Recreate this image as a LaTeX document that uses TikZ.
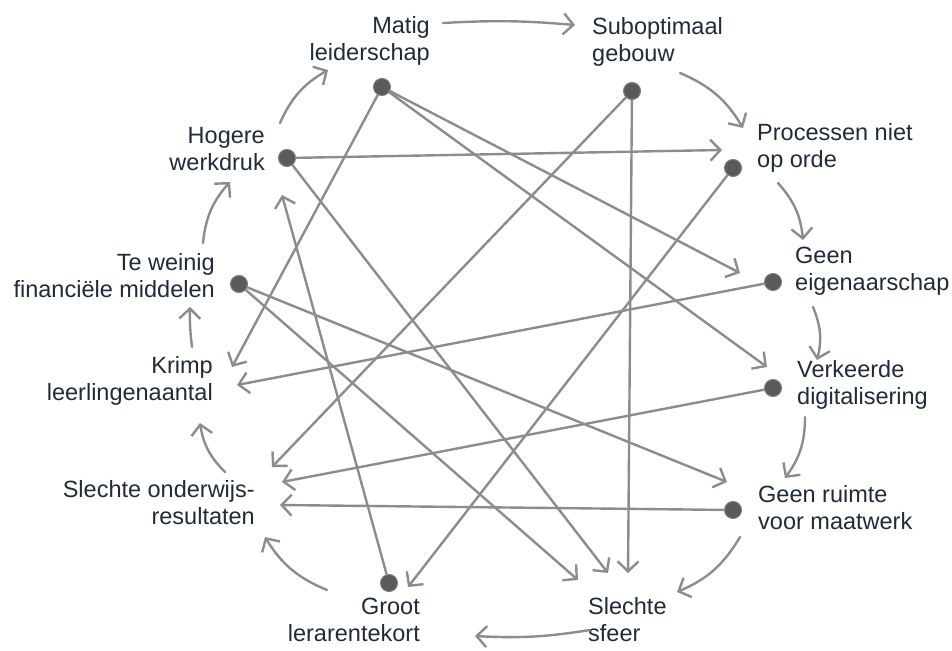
\documentclass[tikz,border=0pt]{standalone}
\usepackage{fontspec}
\setmainfont{Liberation Sans}
\usetikzlibrary{arrows.meta}
\definecolor{txt}{HTML}{1F2B3A}
\definecolor{pencil}{HTML}{8C8C8C}
\definecolor{dotc}{HTML}{5A5A5A}
\begin{document}
\begin{tikzpicture}[x=1pt,y=1pt,
  lbl/.style={inner sep=0pt, text=txt, font=\fontsize{23.5}{27}\selectfont},
  lblL/.style={lbl, align=right, anchor=east},
  lblR/.style={lbl, align=left, anchor=west},
  dotn/.style={circle, fill=dotc, draw=dotc!80!white, line width=1pt, minimum size=17pt, inner sep=0pt},
  link/.style={draw=pencil, line width=2.4pt, line cap=round, line join=round,
    -{Straight Barb[length=10pt,width=21pt]}},
  cyc/.style={link, bend left=18},
]
\useasboundingbox (0,0) rectangle (952,-650);

% labels
\node[lblL] (lMatig) at (430,-41) {Matig\\leiderschap};
\node[lblR] (lSub) at (592,-42) {Suboptimaal\\gebouw};
\node[lblL] (lHog) at (265,-149) {Hogere\\werkdruk};
\node[lblR] (lProc) at (757,-148) {Processen niet\\op orde};
\node[lblL] (lTeW) at (215,-276) {Te weinig\\financiële middelen};
\node[lblR] (lEig) at (795,-271) {Geen\\eigenaarschap};
\node[lblL] (lKrimp) at (213,-381) {Krimp\\leerlingenaantal};
\node[lblR] (lVerk) at (797,-385) {Verkeerde\\digitalisering};
\node[lblL] (lOnd) at (255,-503) {Slechte onderwijs-\\resultaten};
\node[lblR] (lRuim) at (758,-508) {Geen ruimte\\voor maatwerk};
\node[lblL] (lGroot) at (420,-620) {Groot\\lerarentekort};
\node[lblR] (lSfeer) at (588,-620) {Slechte\\sfeer};

% dots
\node[dotn] (dMatig) at (382,-87) {};
\node[dotn] (dSub) at (632,-91) {};
\node[dotn] (dProc) at (733,-168) {};
\node[dotn] (dEig) at (773,-282) {};
\node[dotn] (dVerk) at (773,-388) {};
\node[dotn] (dRuim) at (733,-510) {};
\node[dotn] (dGroot) at (389,-583) {};
\node[dotn] (dTeW) at (239,-284) {};
\node[dotn] (dHog) at (287,-158) {};

% arrow tips of the cross links
\coordinate (tKrimpA) at (232,-367);
\coordinate (tKrimpB) at (237,-385);
\coordinate (tEig) at (740,-273);
\coordinate (tVerk) at (767,-367);
\coordinate (tProc) at (722,-150);
\coordinate (tSfeerA) at (578,-580);
\coordinate (tSfeerB) at (608,-573);
\coordinate (tSfeerC) at (628,-573);
\coordinate (tOndA) at (272,-467);
\coordinate (tOndB) at (282,-482);
\coordinate (tOndC) at (280,-505);
\coordinate (tGroot) at (408,-587);
\coordinate (tHog) at (282,-195);
\coordinate (tRuim) at (727,-482);

% cross links
\draw[link] (dMatig) -- (tKrimpA);
\draw[link] (dMatig) -- (tEig);
\draw[link] (dMatig) -- (tVerk);
\draw[link] (dSub) -- (tOndA);
\draw[link] (dSub) -- (tSfeerC);
\draw[link] (dProc) -- (tGroot);
\draw[link] (dEig) -- (tKrimpB);
\draw[link] (dVerk) -- (tOndB);
\draw[link] (dRuim) -- (tOndC);
\draw[link] (dGroot) -- (tHog);
\draw[link] (dTeW) -- (tRuim);
\draw[link] (dTeW) -- (tSfeerA);
\draw[link] (dHog) -- (tProc);
\draw[link] (dHog) -- (tSfeerB);

% cycle arrows
\coordinate (c1a) at (443,-23);  \coordinate (c1b) at (575,-25);
\coordinate (c2a) at (680,-73);  \coordinate (c2b) at (743,-128);
\coordinate (c3a) at (778,-183); \coordinate (c3b) at (803,-240);
\coordinate (c4a) at (813,-307); \coordinate (c4b) at (817,-360);
\coordinate (c5a) at (805,-417); \coordinate (c5b) at (785,-478);
\coordinate (c6a) at (740,-537); \coordinate (c6b) at (677,-592);
\coordinate (c7a) at (590,-630); \coordinate (c7b) at (475,-636);
\coordinate (c8a) at (327,-590); \coordinate (c8b) at (265,-537);
\coordinate (c9a) at (225,-472); \coordinate (c9b) at (200,-423);
\coordinate (c10a) at (192,-347); \coordinate (c10b) at (190,-307);
\coordinate (c11a) at (203,-243); \coordinate (c11b) at (230,-182);
\coordinate (c12a) at (280,-123); \coordinate (c12b) at (328,-70);

\draw[link] (c1a) to[bend left=4] (c1b);
\draw[cyc] (c2a) to (c2b);
\draw[cyc] (c3a) to (c3b);
\draw[cyc] (c4a) to (c4b);
\draw[cyc] (c5a) to (c5b);
\draw[cyc] (c6a) to (c6b);
\draw[link] (c7a) to[bend left=6] (c7b);
\draw[cyc] (c8a) to (c8b);
\draw[cyc] (c9a) to (c9b);
\draw[link] (c10a) to[bend left=4] (c10b);
\draw[cyc] (c11a) to (c11b);
\draw[cyc] (c12a) to (c12b);
\end{tikzpicture}
\end{document}
